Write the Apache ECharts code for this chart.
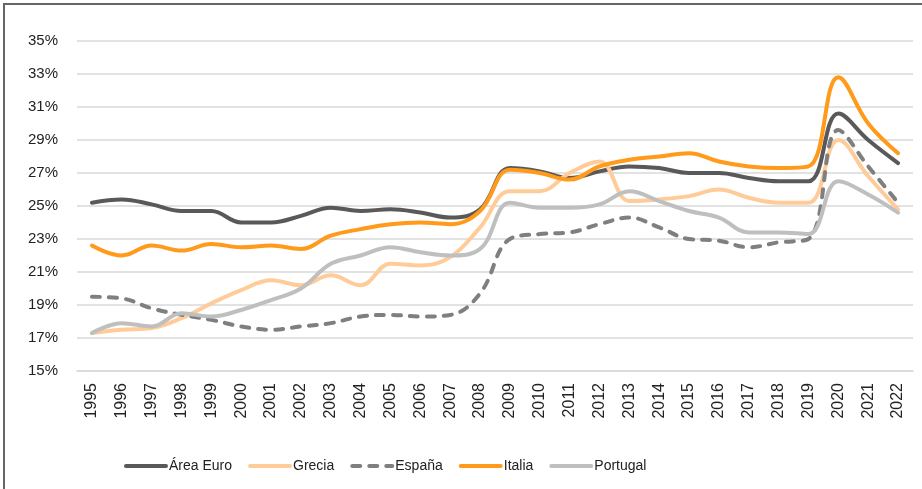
<!DOCTYPE html>
<html>
<head>
<meta charset="utf-8">
<script src="https://cdn.jsdelivr.net/npm/echarts@6/dist/echarts.min.js"></script>
<style>
  html, body { margin: 0; padding: 0; background: #fff; }
  #chart { width: 922px; height: 489px; }
</style>
</head>
<body>
<div id="chart"></div>
<script>
// datos (% del PIB)
const years = ["1995","1996","1997","1998","1999","2000","2001","2002","2003","2004","2005","2006","2007","2008",
  "2009","2010","2011","2012","2013","2014","2015","2016","2017","2018","2019","2020","2021","2022"];
const areaEuro = [25.2,25.4,25.1,24.7,24.7,24.0,24.0,24.4,24.9,24.7,24.8,24.6,24.3,24.8,
  27.3,27.1,26.7,27.1,27.4,27.3,27.0,27.0,26.7,26.5,26.5,30.6,29.0,27.6];
const grecia = [17.3,17.5,17.6,18.2,19.1,19.9,20.5,20.2,20.8,20.2,21.5,21.4,21.9,23.7,
  25.9,25.9,27.0,27.7,25.3,25.4,25.6,26.0,25.5,25.2,25.2,29.0,26.8,24.8];
const espana = [19.5,19.4,18.8,18.4,18.1,17.7,17.5,17.7,17.9,18.3,18.4,18.3,18.4,19.7,
  23.0,23.3,23.4,23.9,24.3,23.7,23.0,22.9,22.5,22.8,23.0,29.6,27.4,25.2];
const italia = [22.6,22.0,22.6,22.3,22.7,22.5,22.6,22.4,23.2,23.6,23.9,24.0,23.9,24.7,
  27.2,27.0,26.6,27.4,27.8,28.0,28.2,27.7,27.4,27.3,27.4,32.8,30.0,28.2];
const portugal = [17.3,17.9,17.7,18.5,18.3,18.7,19.3,20.0,21.5,22.0,22.5,22.2,22.0,22.4,
  25.2,24.9,24.9,25.1,25.9,25.3,24.7,24.3,23.4,23.4,23.3,26.5,25.7,24.6];
const yTicks = { min: 15, max: 35, step: 2 };

const chart = echarts.init(document.getElementById("chart"));

function serie(name, data, color, dashed) {
  return {
    name: name,
    type: "line",
    data: data,
    smooth: 0.4,
    symbol: "none",
    lineStyle: {
      color: color,
      width: 4,
      cap: "round",
      type: dashed ? [8, 9] : "solid"
    },
    itemStyle: { color: color }
  };
}

const option = {
  animation: false,
  textStyle: { fontFamily: "Liberation Sans, Arial, sans-serif" },
  graphic: [{
    type: "rect",
    shape: { x: 4, y: 4, width: 1000, height: 1000 },
    style: { fill: "none", stroke: "#666", lineWidth: 2 },
    silent: true
  }],
  grid: { left: 77, right: 9, top: 41, bottom: 118 },
  xAxis: {
    type: "category",
    data: years,
    boundaryGap: true,
    axisTick: { show: false },
    axisLine: { lineStyle: { color: "#D9D9D9", width: 1.5 } },
    axisLabel: { rotate: 90, color: "#222", fontSize: 16, margin: 12, interval: 0 }
  },
  yAxis: {
    type: "value",
    min: yTicks.min,
    max: yTicks.max,
    interval: yTicks.step,
    axisLine: { show: false },
    axisTick: { show: false },
    splitLine: { lineStyle: { color: "#D9D9D9", width: 1.5 } },
    axisLabel: { formatter: "{value}%", color: "#222", fontSize: 15, margin: 19 }
  },
  legend: {
    left: 119,
    top: 454,
    itemWidth: 40,
    itemHeight: 14,
    itemGap: 16,
    itemStyle: { opacity: 0 },
    lineStyle: { width: 4, cap: "round" },
    textStyle: { fontSize: 14, color: "#222", padding: [0, 0, 0, -2] },
    data: ["Área Euro", "Grecia", "España", "Italia", "Portugal"]
  },
  series: [
    serie("Área Euro", areaEuro, "#595959", false),
    serie("Grecia", grecia, "#FFCC99", false),
    serie("España", espana, "#7F7F7F", true),
    serie("Italia", italia, "#FF9A1A", false),
    serie("Portugal", portugal, "#BFBFBF", false)
  ]
};
chart.setOption(option);
</script>
</body>
</html>
